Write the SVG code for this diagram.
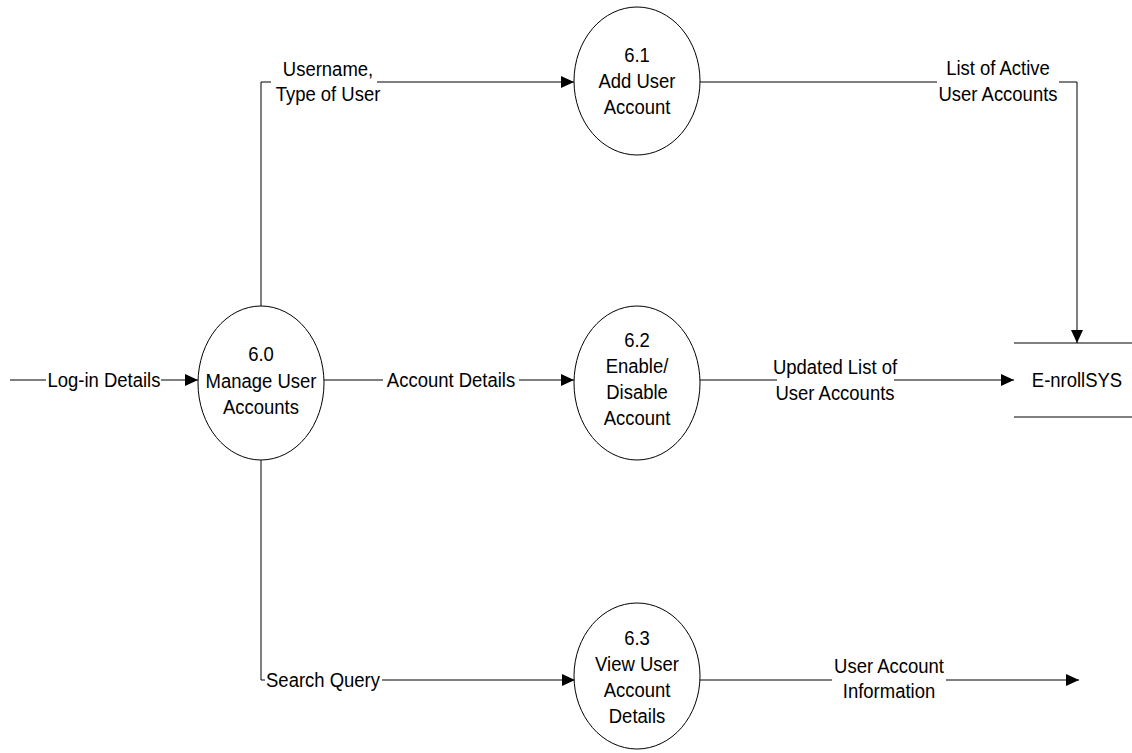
<svg xmlns="http://www.w3.org/2000/svg" width="1132" height="753" viewBox="0 0 1132 753">
<style>
.bg{fill:#ffffff}
.proc{fill:#ffffff;stroke:#000000;stroke-width:1}
.flow{fill:none;stroke:#000000;stroke-width:1}
.store{stroke:#000000;stroke-width:1}
.t{font-family:"Liberation Sans",Arial,sans-serif;font-size:21px;fill:#000000;text-anchor:middle}
</style>
<defs>
<marker id="arr" markerUnits="userSpaceOnUse" markerWidth="13" markerHeight="12" refX="13" refY="6" orient="auto">
<path d="M0,0 L13,6 L0,12 z" fill="#000000"/>
</marker>
</defs>
<rect class="bg" x="0" y="0" width="1132" height="753"/>
<g id="connectors">
<path class="flow" d="M10,380 H46"/>
<path class="flow" d="M161,380 H198" marker-end="url(#arr)"/>
<path class="flow" d="M261,306 V82 H271"/>
<path class="flow" d="M377,82 H574" marker-end="url(#arr)"/>
<path class="flow" d="M324,380 H383"/>
<path class="flow" d="M519,380 H574" marker-end="url(#arr)"/>
<path class="flow" d="M261,460 V680 H265"/>
<path class="flow" d="M382,680 H575" marker-end="url(#arr)"/>
<path class="flow" d="M700,82 H937"/>
<path class="flow" d="M1059,82 H1077 V343" marker-end="url(#arr)"/>
<path class="flow" d="M700,380 H777"/>
<path class="flow" d="M894,380 H1014" marker-end="url(#arr)"/>
<path class="flow" d="M700,680 H832"/>
<path class="flow" d="M946,680 H1079" marker-end="url(#arr)"/>
<text class="t" transform="translate(104,0) scale(0.88,1)"><tspan x="0" y="387">Log-in Details</tspan></text>
<text class="t" transform="translate(328,0) scale(0.88,1)"><tspan x="0" y="76">Username,</tspan><tspan x="0" y="101">Type of User</tspan></text>
<text class="t" transform="translate(451,0) scale(0.88,1)"><tspan x="0" y="387">Account Details</tspan></text>
<text class="t" transform="translate(323,0) scale(0.88,1)"><tspan x="0" y="687">Search Query</tspan></text>
<text class="t" transform="translate(998,0) scale(0.88,1)"><tspan x="0" y="75">List of Active</tspan><tspan x="0" y="101">User Accounts</tspan></text>
<text class="t" transform="translate(835,0) scale(0.88,1)"><tspan x="0" y="374">Updated List of</tspan><tspan x="0" y="400">User Accounts</tspan></text>
<text class="t" transform="translate(889,0) scale(0.88,1)"><tspan x="0" y="673">User Account</tspan><tspan x="0" y="698">Information</tspan></text>
</g>
<g id="p60">
<ellipse class="proc" cx="261" cy="383" rx="63" ry="77"/>
<text class="t" transform="translate(261,0) scale(0.88,1)"><tspan x="0" y="361">6.0</tspan><tspan x="0" y="388">Manage User</tspan><tspan x="0" y="414">Accounts</tspan></text>
</g>
<g id="p61">
<ellipse class="proc" cx="637" cy="81" rx="63" ry="74"/>
<text class="t" transform="translate(637,0) scale(0.88,1)"><tspan x="0" y="62">6.1</tspan><tspan x="0" y="88">Add User</tspan><tspan x="0" y="114">Account</tspan></text>
</g>
<g id="p62">
<ellipse class="proc" cx="637" cy="383" rx="63" ry="77"/>
<text class="t" transform="translate(637,0) scale(0.88,1)"><tspan x="0" y="347">6.2</tspan><tspan x="0" y="373">Enable/</tspan><tspan x="0" y="399">Disable</tspan><tspan x="0" y="425">Account</tspan></text>
</g>
<g id="p63">
<ellipse class="proc" cx="637" cy="676" rx="63" ry="73"/>
<text class="t" transform="translate(637,0) scale(0.88,1)"><tspan x="0" y="645">6.3</tspan><tspan x="0" y="671">View User</tspan><tspan x="0" y="697">Account</tspan><tspan x="0" y="723">Details</tspan></text>
</g>
<g id="ds-enrollsys">
<line class="store" x1="1014" y1="343" x2="1132" y2="343"/>
<line class="store" x1="1014" y1="417" x2="1132" y2="417"/>
<text class="t" transform="translate(1077,0) scale(0.88,1)"><tspan x="0" y="387">E-nrollSYS</tspan></text>
</g>
</svg>
